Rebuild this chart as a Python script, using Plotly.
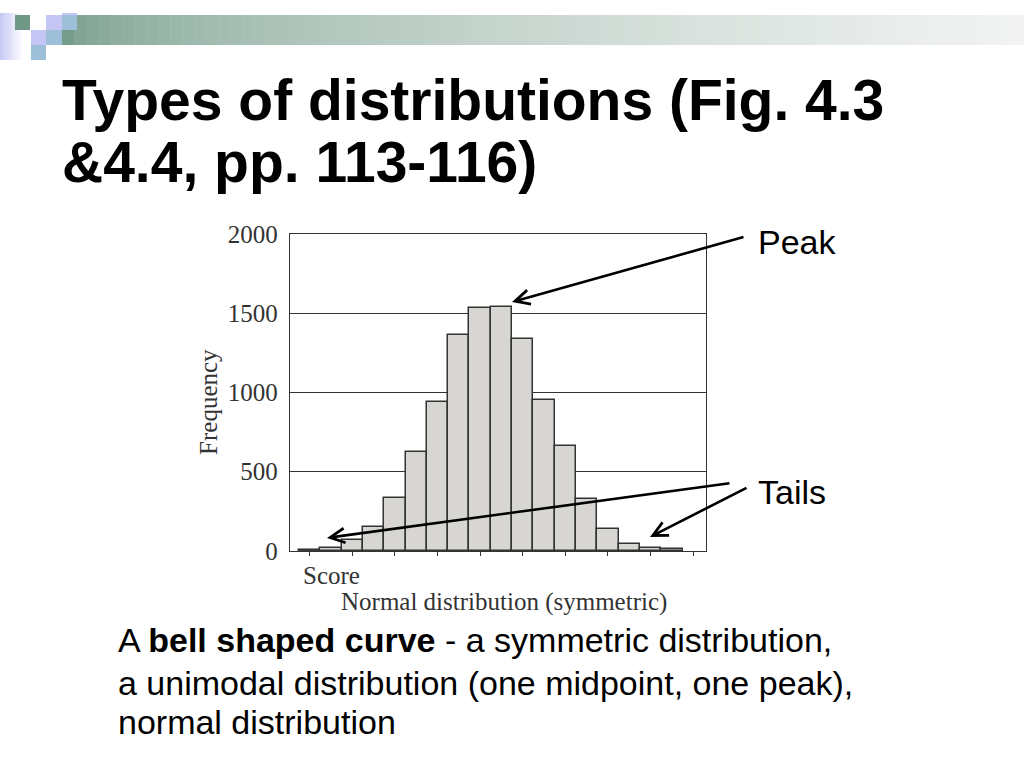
import plotly.graph_objects as go

# ---- data ----
score_bins = list(range(18))
frequency = [5, 20, 68, 148, 335, 625, 940, 1360, 1530, 1540, 1340, 950, 660, 330, 140, 42, 20, 10]
y_ticks = [0, 500, 1000, 1500, 2000]
x_ticks = [0, 2, 4, 6, 8, 10, 12, 14, 16, 18]

W, H = 1024, 768
# the photographed page shows the figure with a small vertical inset; positions below are
# given in reference-picture pixels and mapped onto the figure's paper coordinates
TOP, SCALE = 13.0, 0.965
def px(x):
    return x / W
def py(y):
    return 1 - ((y - TOP) / SCALE) / H

fig = go.Figure()
fig.add_trace(go.Bar(
    x=score_bins, y=frequency, width=1,
    marker=dict(color="#d8d6d2", line=dict(color="#333333", width=1.5)),
    hoverinfo="skip", showlegend=False,
))

shapes = []
# --- header decoration ---
n = 10
for i in range(n):
    t = i / n
    r = int(200 + (255 - 200) * t); g = int(200 + (255 - 200) * t); b = int(245 + (255 - 245) * t)
    shapes.append(dict(type="rect", xref="paper", yref="paper", x0=px(i * 2.2), x1=px((i + 1) * 2.2 + 0.3),
                       y0=py(60), y1=1, fillcolor=f"rgb({r},{g},{b})", line=dict(width=0), layer="below"))
c0 = (118, 157, 139)
n = 80
x_start, x_end = 62, 1024
for i in range(n):
    t = i / (n - 1)
    m = min(1.0, t ** 0.55 * 0.97)
    col = tuple(int(c + (246 - c) * m) for c in c0)
    xa = x_start + (x_end - x_start) * i / n
    xb = x_start + (x_end - x_start) * (i + 1) / n + 0.5
    shapes.append(dict(type="rect", xref="paper", yref="paper", x0=px(xa), x1=px(xb), y0=py(45), y1=py(15),
                       fillcolor=f"rgb{col}", line=dict(width=0), layer="below"))
lav = "#c6c6f6"; blu = "#9ebfd8"; grn = "#6f9986"
for (x0, y0, x1, y1, c) in [
    (15, 15, 30, 30, grn),
    (62, 0, 77, 15, lav),
    (46, 15, 62, 30, lav),
    (62, 15, 77, 30, blu),
    (31, 30, 46, 45, lav),
    (46, 30, 62, 45, blu),
    (31, 45, 46, 60, blu),
]:
    shapes.append(dict(type="rect", xref="paper", yref="paper", x0=px(x0), x1=px(x1), y0=py(y1),
                       y1=min(1.0, py(y0)), fillcolor=c, line=dict(width=0), layer="below"))

serif = "Liberation Serif, Times New Roman, serif"
sans = "Liberation Sans, Arial, sans-serif"
ink = "#333333"

def text_ann(txt, x, y, size, family, color, xanchor="left", angle=0):
    return dict(text=txt, x=px(x), y=py(y), xref="paper", yref="paper", xanchor=xanchor, yanchor="middle",
                textangle=angle, showarrow=False, font=dict(family=family, size=size, color=color))

ann = []
ann.append(text_ann("<b>Types of distributions (Fig. 4.3</b>", 60, 100, 57, sans, "#000"))
ann.append(text_ann("<b>&4.4, pp. 113-116)</b>", 60, 162, 57, sans, "#000"))
ann.append(text_ann("Frequency", 209, 402, 25, serif, ink, xanchor="center", angle=-90))
ann.append(text_ann("Score", 301, 576, 25, serif, ink))
ann.append(text_ann("Normal distribution (symmetric)", 339, 602, 25, serif, ink))
ann.append(text_ann("Peak", 756, 242, 34, sans, "#000"))
ann.append(text_ann("Tails", 756, 492, 34, sans, "#000"))
for (tx, ty, sx, sy) in [(512, 302, 745, 239), (327, 538, 731, 485), (650, 537, 748, 489)]:
    ann.append(dict(text="", x=px(tx), y=py(ty), xref="paper", yref="paper", showarrow=True,
                    ax=sx - tx, ay=(sy - ty) / SCALE, arrowhead=5, arrowsize=1.1, arrowwidth=2.6,
                    arrowcolor="#000", standoff=0))
for (txt, yy) in [("A <b>bell shaped curve</b> - a symmetric distribution,", 640),
                  ("a unimodal distribution (one midpoint, one peak),", 683),
                  ("normal distribution", 722)]:
    ann.append(text_ann(txt, 116, yy, 34, sans, "#000"))

fig.update_layout(
    width=W, height=H, autosize=False, margin=dict(l=0, r=0, t=0, b=0),
    paper_bgcolor="white", plot_bgcolor="rgba(0,0,0,0)",
    bargap=0, shapes=shapes, annotations=ann,
    xaxis=dict(domain=[px(290), px(706)], range=[-0.92, 18.6], showgrid=False, zeroline=False,
               showline=True, linecolor=ink, linewidth=1.4, mirror=True,
               tickvals=x_ticks, ticks="outside", ticklen=4, tickcolor=ink, showticklabels=False),
    yaxis=dict(domain=[py(551), py(234)], range=[0, 2000], tickvals=y_ticks,
               showgrid=True, gridcolor=ink, gridwidth=1.3, zeroline=False,
               showline=True, linecolor=ink, linewidth=1.4, mirror=True, ticks="",
               tickfont=dict(family=serif, size=25, color=ink), ticklabelstandoff=6),
)

page_js = "document.body.style.margin='0';document.body.style.overflow='hidden';"
fig.write_html("out.html", config={"displayModeBar": False, "responsive": False}, post_script=page_js)
